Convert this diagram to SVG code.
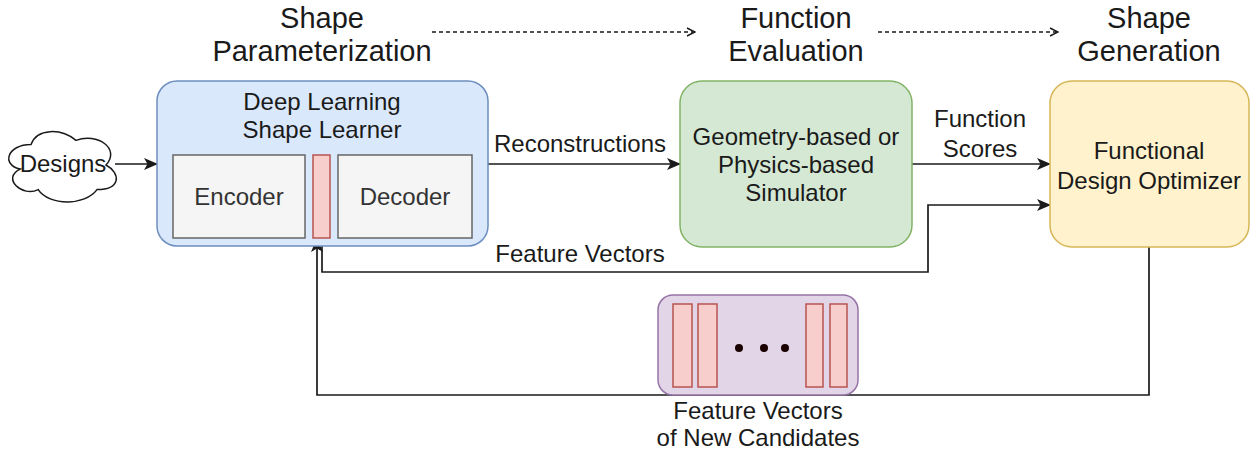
<svg xmlns="http://www.w3.org/2000/svg" width="1252" height="454" viewBox="0 0 1252 454">
  <style>
    text { font-family: "Liberation Sans", Arial, sans-serif; fill: #1a1a1a; text-anchor: middle; }
    .title { font-size: 29px; }
    .lbl { font-size: 24px; }
    .conn { fill: none; stroke: #1a1a1a; stroke-width: 1.7; }
    .dash { fill: none; stroke: #1a1a1a; stroke-width: 1.4; stroke-dasharray: 4 3; }
    .vec { fill: #f8cecc; stroke: #b85450; stroke-width: 1.5; }
    .gray { fill: #f5f5f5; stroke: #666666; stroke-width: 1.5; }
  </style>
  <defs>
    <marker id="arrow" viewBox="0 0 14 12" refX="13" refY="6" markerWidth="14" markerHeight="12" markerUnits="userSpaceOnUse" orient="auto">
      <path d="M0,0 L14,6 L0,12 L3.5,6 Z" fill="#1a1a1a"/>
    </marker>
    <marker id="open" viewBox="0 0 10 10" refX="9" refY="5" markerWidth="10" markerHeight="10" markerUnits="userSpaceOnUse" orient="auto">
      <path d="M1,1 L9,5 L1,9" fill="none" stroke="#1a1a1a" stroke-width="1.4"/>
    </marker>
  </defs>

  <!-- stage titles -->
  <g id="titles">
    <text class="title" x="322" y="28">Shape</text>
    <text class="title" x="322" y="61">Parameterization</text>
    <text class="title" x="796" y="28">Function</text>
    <text class="title" x="796" y="61">Evaluation</text>
    <text class="title" x="1149" y="28">Shape</text>
    <text class="title" x="1149" y="61">Generation</text>
  </g>

  <!-- connectors -->
  <g id="connectors">
    <path class="dash" d="M432 32 L695 32" marker-end="url(#open)"/>
    <path class="dash" d="M878 32 L1058 32" marker-end="url(#open)"/>
    <path class="conn" d="M115 164 L157 164" marker-end="url(#arrow)"/>
    <path class="conn" d="M488 164 L680 164" marker-end="url(#arrow)"/>
    <path class="conn" d="M912 164 L1050 164" marker-end="url(#arrow)"/>
    <path class="conn" d="M322 238 L322 272 L928 272 L928 205 L1050 205" marker-end="url(#arrow)"/>
    <path class="conn" d="M1149 247 L1149 395 L317 395 L317 239" marker-end="url(#arrow)"/>
    <text class="lbl" x="580" y="152">Reconstructions</text>
    <text class="lbl" x="980" y="127">Function</text>
    <text class="lbl" x="980" y="157">Scores</text>
    <text class="lbl" x="580" y="262">Feature Vectors</text>
  </g>

  <!-- Designs cloud -->
  <g id="designs">
    <path d="M31 144.5 C7 144.5 1 165 20.2 169.1 C1 178.1 22.6 197.8 38.2 189.6 C49 206 85 206 97 189.6 C121 189.6 121 173.2 106 165 C121 148.6 97 132.2 76 140.4 C61 128.1 37 128.1 31 144.5 Z" fill="#ffffff" stroke="#1a1a1a" stroke-width="1.5"/>
    <text class="lbl" x="63" y="172">Designs</text>
  </g>

  <!-- Deep Learning Shape Learner -->
  <g id="shape-learner">
    <rect x="157" y="81" width="331" height="165" rx="20" fill="#dae8fc" stroke="#6c8ebf" stroke-width="1.5"/>
    <text class="lbl" x="322" y="110">Deep Learning</text>
    <text class="lbl" x="322" y="138">Shape Learner</text>
    <g id="encoder">
      <rect class="gray" x="173" y="155" width="132" height="83"/>
      <text class="lbl" x="239" y="205" style="fill:#333333">Encoder</text>
    </g>
    <g id="latent">
      <rect class="vec" x="313" y="155" width="17" height="83"/>
    </g>
    <g id="decoder">
      <rect class="gray" x="338" y="155" width="134" height="83"/>
      <text class="lbl" x="405" y="205" style="fill:#333333">Decoder</text>
    </g>
  </g>

  <!-- Simulator -->
  <g id="simulator">
    <rect x="680" y="81" width="232" height="166" rx="22" fill="#d5e8d4" stroke="#82b366" stroke-width="1.5"/>
    <text class="lbl" x="796" y="145">Geometry-based or</text>
    <text class="lbl" x="796" y="173">Physics-based</text>
    <text class="lbl" x="796" y="201">Simulator</text>
  </g>

  <!-- Optimizer -->
  <g id="optimizer">
    <rect x="1050" y="81" width="199" height="166" rx="22" fill="#fff2cc" stroke="#d6b656" stroke-width="1.5"/>
    <text class="lbl" x="1149" y="159">Functional</text>
    <text class="lbl" x="1149" y="189">Design Optimizer</text>
  </g>

  <!-- New candidates -->
  <g id="candidates">
    <rect x="658" y="295" width="200" height="100" rx="15" fill="#e1d5e7" stroke="#9673a6" stroke-width="1.5"/>
    <rect class="vec" x="673" y="304" width="19" height="83"/>
    <rect class="vec" x="698" y="304" width="19" height="83"/>
    <rect class="vec" x="806" y="304" width="17" height="83"/>
    <rect class="vec" x="830" y="304" width="17" height="83"/>
    <circle cx="739" cy="348" r="4" fill="#1a0000"/>
    <circle cx="764" cy="348" r="4" fill="#1a0000"/>
    <circle cx="785" cy="348" r="4" fill="#1a0000"/>
    <text class="lbl" x="758" y="419">Feature Vectors</text>
    <text class="lbl" x="758" y="446">of New Candidates</text>
  </g>
</svg>
